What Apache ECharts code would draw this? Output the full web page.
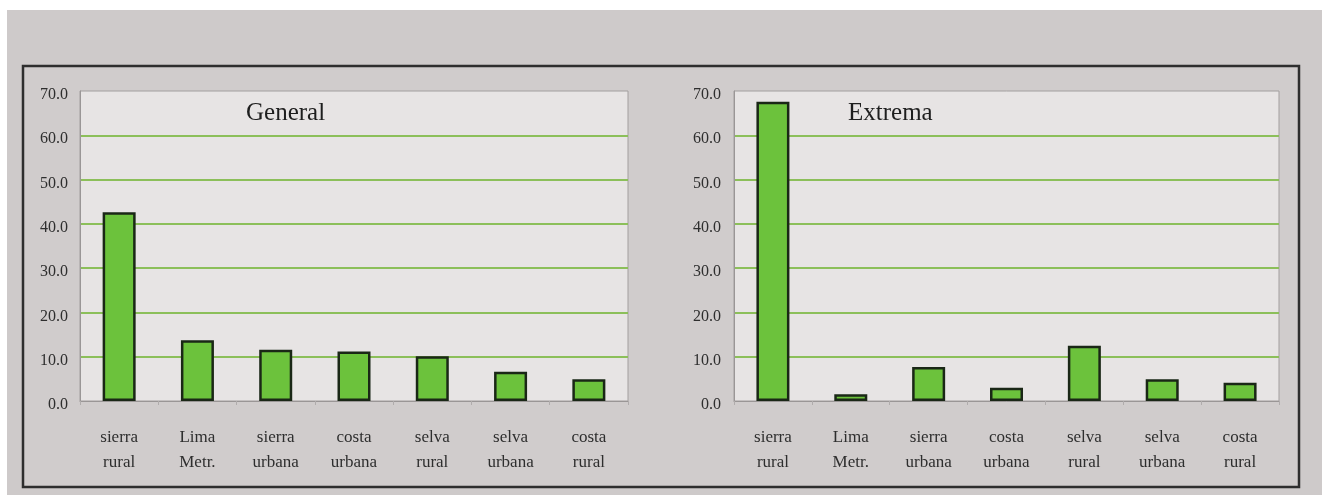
<!DOCTYPE html>
<html>
<head>
<meta charset="utf-8">
<style>
  html, body { margin: 0; padding: 0; background: #ffffff; }
  #chart { width: 1322px; height: 495px; }
</style>
<script src="https://cdn.jsdelivr.net/npm/echarts@6/dist/echarts.min.js"></script>
</head>
<body>
<div id="chart"></div>
<script>
// Poverty incidence by region (%), two panels
const categories = ['sierra\nrural', 'Lima\nMetr.', 'sierra\nurbana', 'costa\nurbana', 'selva\nrural', 'selva\nurbana', 'costa\nrural'];
const generalValues = [42.6, 13.7, 11.6, 11.2, 10.1, 6.6, 4.9];
const extremaValues = [67.6, 1.5, 7.7, 3.0, 12.5, 4.9, 4.1];
const panelTitles = ['General', 'Extrema'];

const serif = '"Liberation Serif", "DejaVu Serif", serif';
const gridColor = '#8cbf5a';

function xAxisFor(gridIndex) {
  return {
    type: 'category',
    gridIndex: gridIndex,
    data: categories,
    axisLine: { lineStyle: { color: '#9a9696', width: 1 } },
    axisTick: { show: true, length: 4, lineStyle: { color: '#b0acac' } },
    axisLabel: { color: '#2e2e2e', fontFamily: serif, fontSize: 17, lineHeight: 25, margin: 24 }
  };
}

function yAxisFor(gridIndex, margin) {
  return {
    type: 'value',
    gridIndex: gridIndex,
    min: 0,
    max: 70,
    interval: 10,
    axisLine: { show: true, lineStyle: { color: '#9a9696', width: 1 } },
    axisTick: { show: false },
    axisLabel: {
      color: '#2e2e2e', fontFamily: serif, fontSize: 16, margin: margin,
      verticalAlign: 'top', lineHeight: 8,
      formatter: v => v.toFixed(1)
    },
    splitLine: {
      show: true, showMinLine: false, showMaxLine: false,
      lineStyle: { color: gridColor, width: 2 }
    }
  };
}

function barSeries(idx, values) {
  return {
    type: 'bar',
    xAxisIndex: idx,
    yAxisIndex: idx,
    data: values,
    barWidth: 33,
    itemStyle: { color: '#6cc23c', borderColor: '#1a2716', borderWidth: 2.5 },
    z: 5
  };
}

const chart = echarts.init(document.getElementById('chart'));
chart.setOption({
  animation: false,
  backgroundColor: '#ffffff',
  graphic: [
    { type: 'rect', z: -10, shape: { x: 7, y: 10, width: 1315, height: 485 }, style: { fill: '#cecaca' } },
    { type: 'rect', z: -9, shape: { x: 23, y: 66, width: 1276, height: 421 }, style: { fill: '#d0cccc', stroke: '#2e2e2e', lineWidth: 2.5 } }
  ],
  title: [
    { text: panelTitles[0], left: 241, top: 96, textStyle: { fontFamily: serif, fontWeight: 'normal', fontSize: 25, color: '#1e1e1e' } },
    { text: panelTitles[1], left: 843, top: 96, textStyle: { fontFamily: serif, fontWeight: 'normal', fontSize: 25, color: '#1e1e1e' } }
  ],
  grid: [
    { left: 80, top: 91, width: 548, height: 310, show: true, backgroundColor: '#e7e4e4', borderColor: '#a29e9e', borderWidth: 1 },
    { left: 734, top: 91, width: 545, height: 310, show: true, backgroundColor: '#e7e4e4', borderColor: '#a29e9e', borderWidth: 1 }
  ],
  xAxis: [xAxisFor(0), xAxisFor(1)],
  yAxis: [yAxisFor(0, 12), yAxisFor(1, 13)],
  series: [barSeries(0, generalValues), barSeries(1, extremaValues)]
});
</script>
</body>
</html>
